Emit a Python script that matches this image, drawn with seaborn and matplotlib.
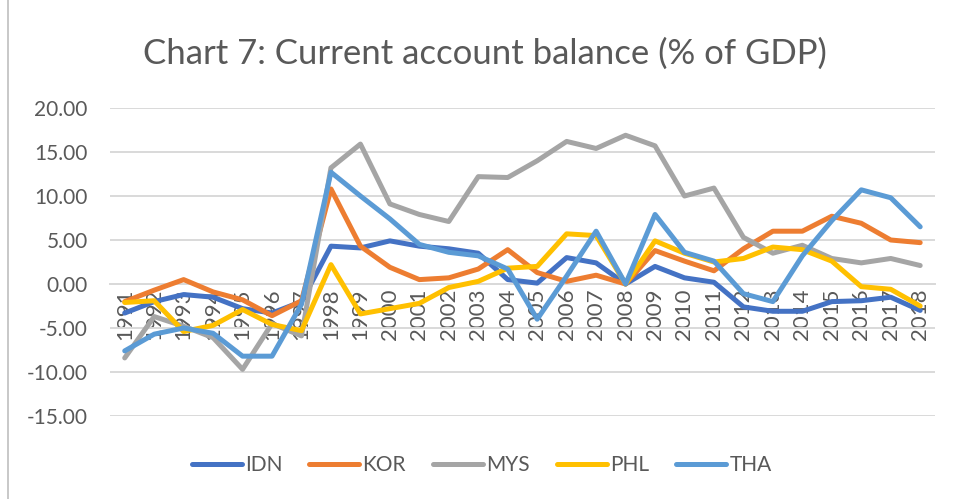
import matplotlib
matplotlib.use("Agg")
import matplotlib.pyplot as plt
import matplotlib.lines as mlines
import numpy as np
import pandas as pd
import seaborn as sns

# Chart data
years = list(range(1991, 2019))
idn = [-3.3, -2.0, -1.2, -1.5, -2.8, -3.3, -2.0, 4.3, 4.1, 4.9, 4.3, 4.0, 3.5, 0.5,
       0.1, 3.0, 2.4, 0.0, 2.0, 0.7, 0.2, -2.6, -3.1, -3.1, -2.0, -1.9, -1.5, -3.0]
kor = [-2.0, -0.7, 0.5, -0.9, -1.8, -3.6, -1.9, 10.8, 4.3, 1.9, 0.5, 0.7, 1.7, 3.9,
       1.3, 0.3, 1.0, 0.0, 3.8, 2.6, 1.5, 4.0, 6.0, 6.0, 7.7, 6.9, 5.0, 4.7]
mys = [-8.4, -3.7, -4.8, -6.1, -9.7, -4.5, -5.9, 13.2, 15.9, 9.1, 7.9, 7.1, 12.2, 12.1,
       14.0, 16.2, 15.4, 16.9, 15.7, 10.0, 10.9, 5.3, 3.5, 4.4, 2.9, 2.4, 2.9, 2.1]
phl = [-2.1, -1.9, -5.4, -4.7, -2.9, -4.6, -5.3, 2.2, -3.4, -2.8, -2.2, -0.4, 0.3, 1.8,
       2.0, 5.7, 5.5, 0.0, 4.9, 3.5, 2.5, 2.9, 4.2, 3.9, 2.6, -0.3, -0.6, -2.5]
tha = [-7.6, -5.7, -5.0, -5.6, -8.2, -8.2, -2.3, 12.7, 10.0, 7.4, 4.5, 3.6, 3.2, 1.7,
       -4.0, 0.9, 6.0, 0.0, 7.9, 3.6, 2.6, -1.1, -2.0, 3.2, 7.2, 10.7, 9.8, 6.5]
countries = ["IDN", "KOR", "MYS", "PHL", "THA"]
colors = ["#4472C4", "#ED7D31", "#A5A5A5", "#FFC000", "#5B9BD5"]
y_ticks = [-15, -10, -5, 0, 5, 10, 15, 20]

df = pd.DataFrame({"Year": years, "IDN": idn, "KOR": kor, "MYS": mys, "PHL": phl, "THA": tha})
df_long = df.melt(id_vars="Year", var_name="Country", value_name="Balance")

sns.set_theme(style="white")
plt.rcParams["font.family"] = ["Lato", "DejaVu Sans"]
text_color = "#595959"
grid_color = "#D9D9D9"

fig = plt.figure(figsize=(9.54, 4.99), dpi=100)
ax = fig.add_axes([0.1153, 0.1663, 0.8647, 0.6173])

sns.lineplot(data=df_long, x="Year", y="Balance", hue="Country", hue_order=countries,
             palette=colors, linewidth=3.6, sort=False, ax=ax, legend=False, zorder=3)

ax.set_xlim(1990.5, 2018.5)
ax.set_ylim(-15, 20)
ax.set_yticks(y_ticks)
ax.set_yticklabels([f"{v:.2f}" for v in y_ticks])
ax.set_xticks(years)
ax.set_xticklabels([str(y) for y in years])
ax.set_xlabel("")
ax.set_ylabel("")

ax.yaxis.grid(True, color=grid_color, linewidth=1.4)
ax.xaxis.grid(False)
for side in ["left", "right", "top"]:
    ax.spines[side].set_visible(False)
ax.spines["bottom"].set_position(("data", 0))
ax.spines["bottom"].set_color(grid_color)
ax.spines["bottom"].set_linewidth(1.4)
ax.tick_params(axis="y", length=0, pad=16, labelsize=15, labelcolor=text_color)
ax.tick_params(axis="x", length=0, pad=3, labelsize=16, labelcolor=text_color,
               labelrotation=90)
for lbl in ax.get_xticklabels():
    lbl.set_va("top")
    lbl.set_ha("center")

fig.suptitle("Chart 7: Current account balance (% of GDP)", x=0.508, y=0.925,
             fontsize=25, color=text_color)

handles = [mlines.Line2D([], [], color=c, linewidth=3.6, solid_capstyle="round")
           for c in colors]
fig.legend(handles, countries, loc="center", bbox_to_anchor=(0.505, 0.068), ncol=5,
           frameon=False, fontsize=15, handlelength=2.4, handletextpad=0.15,
           columnspacing=1.3, labelcolor=text_color)

# chart border at the left edge
fig.add_artist(mlines.Line2D([8 / 954, 8 / 954], [0, 1], color="#BFBFBF", linewidth=1.2))

fig.savefig("out.png", dpi=100)
